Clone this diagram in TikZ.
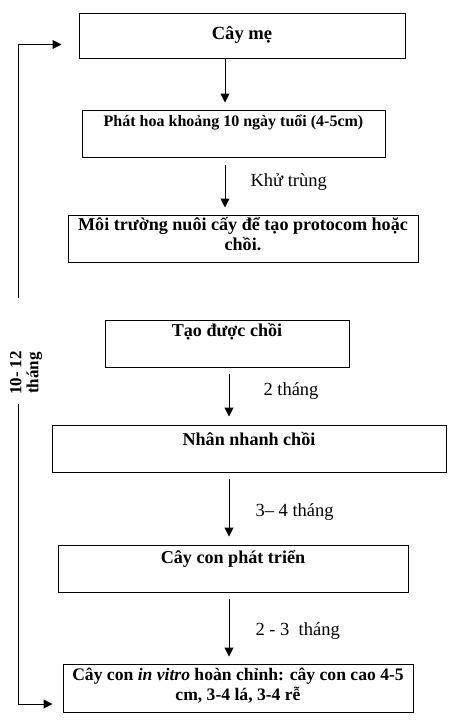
\documentclass[tikz,border=0pt]{standalone}
\usepackage{fontspec}
\setmainfont{Liberation Serif}
\usetikzlibrary{arrows.meta, positioning}
\tikzset{
  every picture/.style={line width=1pt},
  box/.style={draw, align=center, inner sep=0pt, font=\bfseries\fontsize{#1}{20}\selectfont},
  box/.default=18.1,
  arrow/.style={-{Triangle[length=9pt, width=9pt]}},
  step label/.style={font=\fontsize{18.5}{20}\selectfont, anchor=base west, inner sep=0pt},
}
\begin{document}
\begin{tikzpicture}[x=1pt, y=-1pt]
  \useasboundingbox (0,0) rectangle (459,725);
  % main chain
  \node[box=18.6, minimum width=326pt, minimum height=45pt] (me) at (242,36.5) {Cây mẹ\\[-12pt]\mbox{}};
  \node[box=16, minimum width=303pt, minimum height=47pt] (hoa) at (233.5,133.5) {Phát hoa khoảng 10 ngày tuổi (4-5cm)\\[6pt]\mbox{}};
  \node[box, minimum width=350pt, minimum height=47pt] (moi) at (243,238.5) {Môi trường nuôi cấy để tạo protocom hoặc\\chồi.\\[-10pt]\mbox{}};
  \node[box, minimum width=244pt, minimum height=47pt] (tao) at (227,343.5) {Tạo được chồi\\[7pt]\mbox{}};
  \node[box, minimum width=394pt, minimum height=47pt] (nhan) at (249,448.5) {Nhân nhanh chồi\\\mbox{}};
  \node[box, minimum width=350pt, minimum height=47pt] (phat) at (233,568.5) {Cây con phát triển\\[3pt]\mbox{}};
  \node[box=17.6, minimum width=350pt, minimum height=48pt] (hoan) at (238,688) {Cây con \textit{in vitro} hoàn chỉnh: cây con cao 4-5\\cm, 3-4 lá, 3-4 rễ\\[-13pt]\mbox{}};
  \coordinate (xa) at (225,0);
  \coordinate (xb) at (229,0);
  \draw[arrow] (me.south -| xa) -- ([yshift=7pt]hoa.north -| xa);
  \draw[arrow] ([yshift=-7pt]hoa.south -| xa) -- ([yshift=7pt]moi.north -| xa)
    node[step label, midway, xshift=25pt] (khu) {Khử trùng};
  \draw[arrow] ([yshift=-6pt]tao.south -| xb) -- ([yshift=8pt]nhan.north -| xb)
    node[step label, midway, xshift=34pt] (t2) {2 tháng};
  \draw[arrow] ([yshift=-6pt]nhan.south -| xb) -- ([yshift=8pt]phat.north -| xb)
    node[step label, midway, xshift=26pt, yshift=-8.5pt] (t34) {3– 4 tháng};
  \draw[arrow] ([yshift=-6pt]phat.south -| xb) -- ([yshift=7pt]hoan.north -| xb)
    node[step label, midway, xshift=26pt, yshift=-7.5pt] (t23) {2 - 3\ \ tháng};
  % loop on the left
  \node[font=\bfseries\fontsize{17}{17}\selectfont, align=center, rotate=90] (thoi) at (26,373) {10- 12\\tháng};
  \coordinate (up) at (18,298);
  \coordinate (down) at (18,404);
  \draw[arrow] (up) |- ([xshift=-17pt, yshift=-8pt]me.west);
  \draw[arrow] (down) |- ([xshift=-10pt, yshift=-16pt]hoan.west);
\end{tikzpicture}
\end{document}
